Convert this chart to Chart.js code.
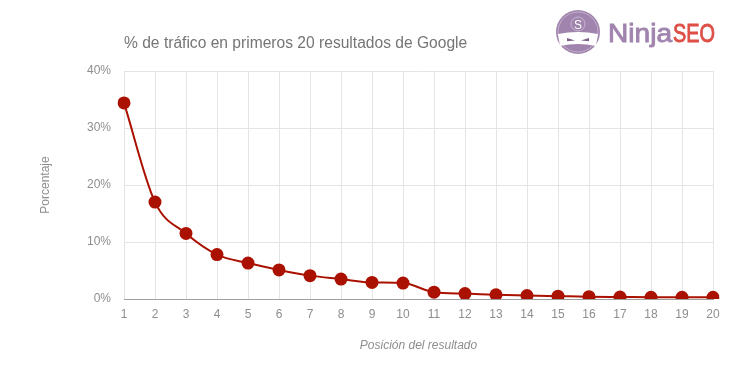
<!DOCTYPE html>
<html>
<head>
<meta charset="utf-8">
<script src="https://cdn.jsdelivr.net/npm/chart.js@4"></script>
<style>
  html, body { margin: 0; padding: 0; background: #fff; }
  #wrap { position: relative; width: 737px; height: 371px; }
  #titulo {
    position: absolute; left: 124px; top: 34px;
    font: 15.6px "Liberation Sans", Arial, sans-serif; color: #757575;
  }
  #logo { position: absolute; left: 552px; top: 8px; }
</style>
</head>
<body>
<div id="wrap">
  <canvas id="trafico" width="737" height="371"></canvas>
  <div id="titulo">% de tráfico en primeros 20 resultados de Google</div>
  <svg id="logo" width="180" height="50" viewBox="0 0 180 50">
    <circle cx="26" cy="24" r="22" fill="#a184ae"/>
    <circle cx="26" cy="24" r="20" fill="none" stroke="#c3afcb" stroke-width="1"/>
    <circle cx="26" cy="16" r="7" fill="none" stroke="#c8b6d0" stroke-width="1"/>
    <text x="26" y="20.5" text-anchor="middle" font-family="Liberation Sans, Arial" font-size="12" fill="#fff">S</text>
    <path d="M6 26 Q26 22 46 26 L44 38 Q26 34 8 38 Z" fill="#fff"/>
    <path d="M15 30 l8 2.5 l-8 0.8 Z M37 30 l-8 2.5 l8 0.8 Z" fill="#7d5f8b"/>
    <text x="56" y="34" textLength="64" lengthAdjust="spacingAndGlyphs" font-family="Liberation Sans, Arial" font-size="26" fill="#a184ae" stroke="#a184ae" stroke-width="0.9">Ninja</text>
    <text x="121" y="34" textLength="42" lengthAdjust="spacingAndGlyphs" font-family="Liberation Sans, Arial" font-size="26" fill="#de4f47" stroke="#de4f47" stroke-width="0.9">SEO</text>
  </svg>
</div>
<script>
// posiciones 1..20 y porcentaje de tráfico
const posiciones = ['1','2','3','4','5','6','7','8','9','10','11','12','13','14','15','16','17','18','19','20'];
const porcentaje = [34.4, 17.0, 11.5, 7.8, 6.3, 5.1, 4.1, 3.5, 2.9, 2.8, 1.2, 0.95, 0.75, 0.6, 0.5, 0.4, 0.35, 0.3, 0.3, 0.3];
const ticksY = [0, 10, 20, 30, 40];

const gris = '#8e8e8e';
const fuente = { family: '"Liberation Sans", Arial, sans-serif', size: 12 };

new Chart(document.getElementById('trafico').getContext('2d'), {
  type: 'line',
  data: {
    labels: posiciones,
    datasets: [{
      label: 'Tráfico',
      data: porcentaje,
      borderColor: '#aa1100',
      backgroundColor: '#aa1100',
      borderWidth: 2,
      pointRadius: 6.5,
      pointHoverRadius: 6.5,
      pointBorderWidth: 0,
      tension: 0.4,
      cubicInterpolationMode: 'monotone'
    }]
  },
  options: {
    responsive: false,
    animation: false,
    layout: { padding: { left: 0, right: 24, top: 71, bottom: 0 } },
    plugins: { legend: { display: false }, tooltip: { enabled: false } },
    scales: {
      x: {
        offset: false,
        grid: { color: '#e4e4e4', drawTicks: false },
        border: { color: '#9e9e9e', width: 1 },
        ticks: { color: gris, font: fuente, padding: 8, maxRotation: 0, autoSkip: false },
        title: {
          display: true, text: 'Posición del resultado', color: gris,
          font: { ...fuente, style: 'italic' }, padding: { top: 0, bottom: 18 }
        },
        afterFit: s => { s.height = 72; }
      },
      y: {
        min: 0, max: 40,
        afterBuildTicks: s => { s.ticks = ticksY.map(v => ({ value: v })); },
        grid: { color: '#e4e4e4', drawTicks: false },
        border: { display: false },
        ticks: { color: gris, font: fuente, padding: 13, callback: v => v + '%' },
        title: {
          display: true, text: 'Porcentaje', color: gris, font: fuente,
          padding: { top: 38, bottom: 0 }
        },
        afterFit: s => { s.width = 124; }
      }
    }
  }
});
</script>
</body>
</html>
